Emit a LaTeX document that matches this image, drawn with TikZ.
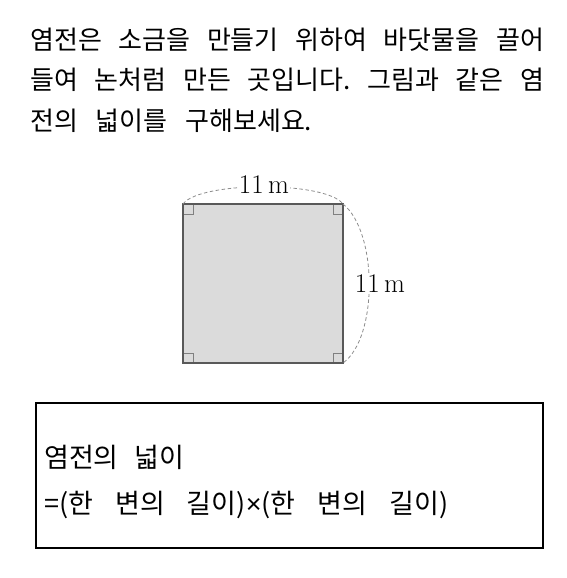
\documentclass[tikz,border=0pt]{standalone}
\usepackage{fontspec}
\newfontfamily\kr{Noto Sans CJK KR}
\newfontfamily\xsign{Liberation Sans}
\begin{document}
\begin{tikzpicture}[x=1pt,y=-1pt,
  krtext/.style={inner sep=0pt,anchor=west,font=\kr\fontsize{26pt}{31pt}\selectfont},
  boxtext/.style={inner sep=0pt,anchor=west,font=\kr\fontsize{27pt}{32pt}\selectfont},
  dimlabel/.style={inner sep=1pt,fill=white,font=\fontsize{27pt}{32pt}\selectfont},
  dimcurve/.style={draw=black!45,line width=0.8pt,dash pattern=on 3.5pt off 2.5pt},
  rmark/.style={draw=black!50,line width=0.6pt}]
\useasboundingbox (0,0) rectangle (566,578);
% question text
\node[krtext] (l1) at (30,40) {\hbox to 514pt{염전은\hfill 소금을\hfill 만들기\hfill 위하여\hfill 바닷물을\hfill 끌어}};
\node[krtext] (l2) at (30,80) {\hbox to 514pt{들여\hfill 논처럼\hfill 만든\hfill 곳입니다.\hfill 그림과\hfill 같은\hfill 염}};
\node[krtext] (l3) at (30,121) {\hbox to 282pt{전의\hfill 넓이를\hfill 구해보세요.}};
% square
\coordinate (A) at (183,204);
\coordinate (B) at (343,204);
\coordinate (C) at (343,363);
\coordinate (D) at (183,363);
\fill[black!14] (A) rectangle (C);
\draw[rmark] (183,214) -- (193,214) -- (193,204);
\draw[rmark] (333,204) -- (333,214) -- (343,214);
\draw[rmark] (333,363) -- (333,353) -- (343,353);
\draw[rmark] (193,363) -- (193,353) -- (183,353);
\draw[black!65,line width=1.6pt] (A) -- (B) -- (C) -- (D) -- cycle;
% dimension curves
\draw[dimcurve] (A) .. controls (200,181) and (326,181) .. (B);
\draw[dimcurve] (B) .. controls (378,232) and (378,338) .. (C);
\node[dimlabel] (top) at (264,185) {11\,m};
\node[dimlabel] (right) at (380,284) {11\,m};
% formula box
\node[draw=black,line width=2pt,minimum width=507pt,minimum height=145pt,inner sep=0pt] (box) at (289.5,475.5) {};
\node[boxtext] (f1) at (44,457) {\hbox to 140pt{염전의\hfill 넓이}};
\node[boxtext] (f2) at (44,505) {\hbox to 404pt{=(한\hfill 변의\hfill 길이){\xsign ×}(한\hfill 변의\hfill 길이)}};
\end{tikzpicture}
\end{document}
